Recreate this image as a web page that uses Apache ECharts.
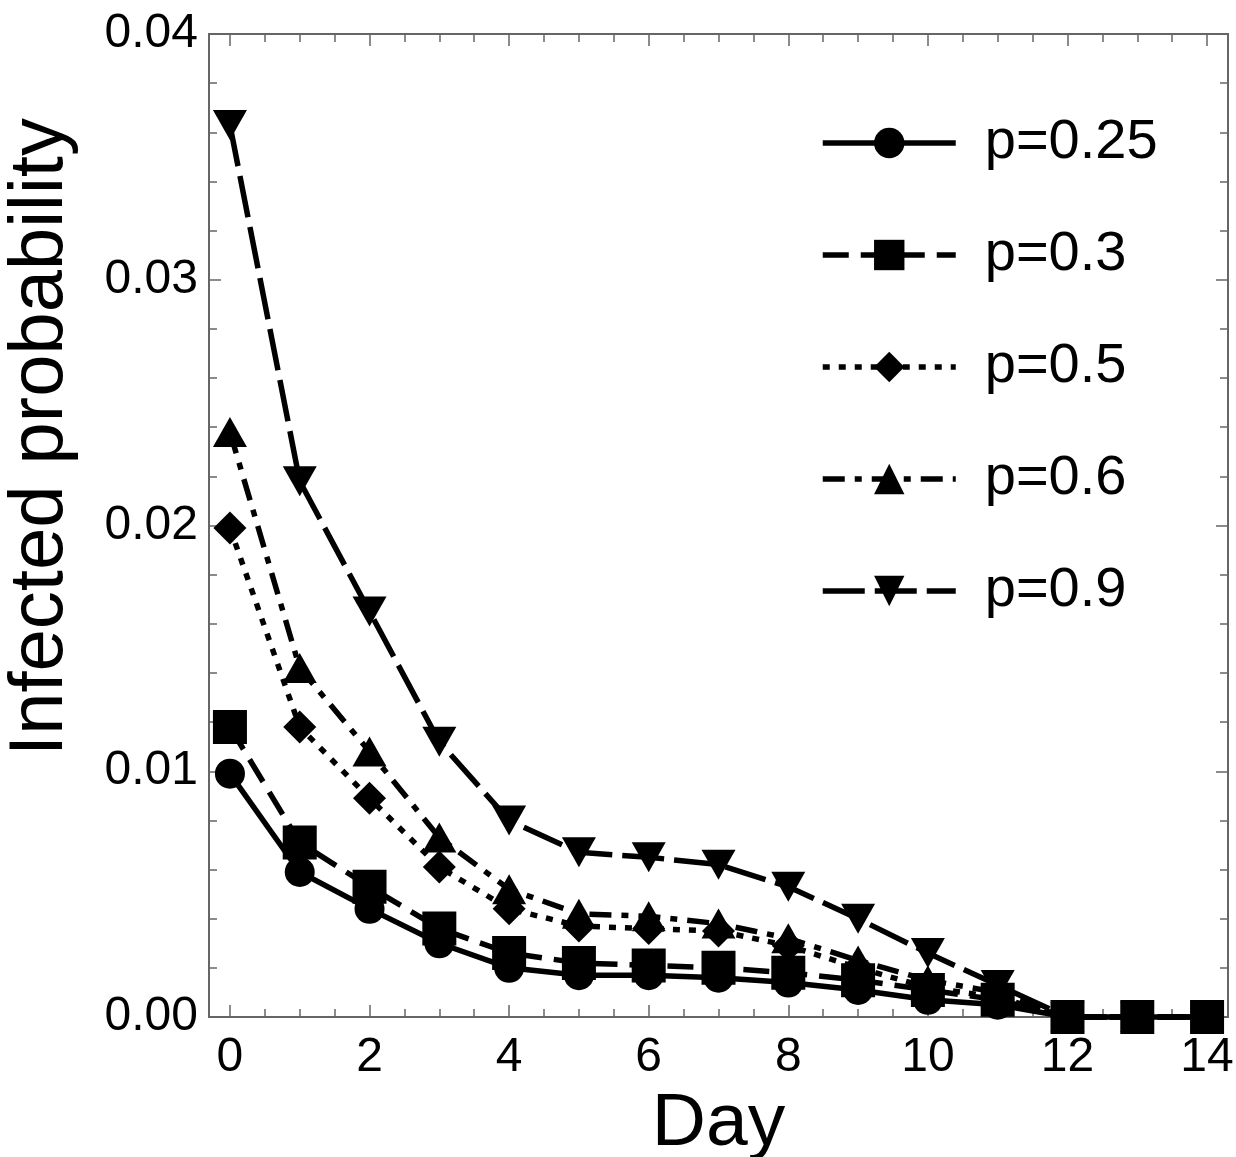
<!DOCTYPE html>
<html>
<head>
<meta charset="utf-8">
<script src="https://cdn.jsdelivr.net/npm/echarts@6/dist/echarts.min.js"></script>
<style>
    html, body { margin: 0; padding: 0; background: #fff; }
    #chart { width: 1236px; height: 1157px; }
</style>
</head>
<body>
<div id="chart"></div>
<script>
const days = [0, 1, 2, 3, 4, 5, 6, 7, 8, 9, 10, 11, 12, 13, 14];
const p025 = [0.0099, 0.0059, 0.0044, 0.0030, 0.0020, 0.0017, 0.0017, 0.0016, 0.0014, 0.0011, 0.0007, 0.0005, 0, 0, 0];
const p03  = [0.0118, 0.0071, 0.0053, 0.0036, 0.0026, 0.0022, 0.0021, 0.0020, 0.0018, 0.0015, 0.0011, 0.0007, 0, 0, 0];
const p05  = [0.0199, 0.0118, 0.0089, 0.0061, 0.0044, 0.0037, 0.0036, 0.0035, 0.0029, 0.0020, 0.0012, 0.0008, 0, 0, 0];
const p06  = [0.0238, 0.0142, 0.0108, 0.0073, 0.0052, 0.0042, 0.0041, 0.0038, 0.0032, 0.0023, 0.0015, 0.0010, 0, 0, 0];
const p09  = [0.0363, 0.0218, 0.0165, 0.0112, 0.0080, 0.0067, 0.0065, 0.0062, 0.0053, 0.0040, 0.0026, 0.0013, 0, 0, 0];

const xMajor = [0, 2, 4, 6, 8, 10, 12, 14];
const xMinor = [0, 0.5, 1, 1.5, 2, 2.5, 3, 3.5, 4, 4.5, 5, 5.5, 6, 6.5, 7, 7.5, 8, 8.5, 9, 9.5, 10, 10.5, 11, 11.5, 12, 12.5, 13, 13.5, 14];

const FONT = 'Liberation Sans, Arial, sans-serif';
const FRAME = '#666';

function pairs(vals) {
    return days.map((d, i) => [d, vals[i]]);
}

function xAxisOf(position, values, len, showLabel) {
    return {
        type: 'value',
        position: position,
        min: -0.3,
        max: 14.3,
        axisLine: { show: true, onZero: false, lineStyle: { color: FRAME, width: 2 } },
        axisTick: { show: true, inside: true, length: len, customValues: values, lineStyle: { color: FRAME, width: 1.5 } },
        axisLabel: showLabel
            ? { show: true, customValues: xMajor, margin: 17, color: '#000', fontSize: 48, fontFamily: FONT }
            : { show: false },
        splitLine: { show: false }
    };
}

function yAxisOf(position, showLabel) {
    return {
        type: 'value',
        position: position,
        min: 0,
        max: 0.04,
        interval: 0.01,
        axisLine: { show: true, onZero: false, lineStyle: { color: FRAME, width: 2 } },
        axisTick: { show: true, inside: true, length: 12, lineStyle: { color: FRAME, width: 1.5 } },
        minorTick: { show: true, splitNumber: 5, length: 8, lineStyle: { color: FRAME, width: 1.5 } },
        axisLabel: showLabel
            ? { show: true, margin: 11, color: '#000', fontSize: 48, fontFamily: FONT, formatter: v => v.toFixed(2) }
            : { show: false },
        splitLine: { show: false },
        minorSplitLine: { show: false }
    };
}

function lineSeries(name, vals, symbol, size, dash) {
    return {
        name: name,
        type: 'line',
        xAxisIndex: 0,
        yAxisIndex: 0,
        data: pairs(vals),
        symbol: symbol,
        symbolSize: size,
        showAllSymbol: true,
        clip: false,
        lineStyle: { color: '#000', width: 5.5, type: dash },
        itemStyle: { color: '#000' }
    };
}

const chart = echarts.init(document.getElementById('chart'));
chart.setOption({
    backgroundColor: '#fff',
    animation: false,
    grid: { left: 209, right: 8, top: 34, bottom: 140, containLabel: false, outerBoundsMode: 'none' },
    xAxis: [
        Object.assign(xAxisOf('bottom', xMajor, 12, true), {
            name: 'Day',
            nameLocation: 'middle',
            nameGap: 61,
            nameTextStyle: { color: '#000', fontSize: 75, fontFamily: FONT }
        }),
        xAxisOf('bottom', xMinor, 8, false),
        xAxisOf('top', xMajor, 12, false),
        xAxisOf('top', xMinor, 8, false)
    ],
    yAxis: [
        yAxisOf('left', true),
        yAxisOf('right', false)
    ],
    legend: {
        orient: 'vertical',
        left: 815,
        top: 110,
        itemWidth: 133,
        itemHeight: 38,
        itemGap: 56,
        lineStyle: { width: 5.5 },
        textStyle: { color: '#000', fontSize: 56, lineHeight: 56, fontFamily: FONT, padding: [0, 0, 0, 24] },
        data: ['p=0.25', 'p=0.3', 'p=0.5', 'p=0.6', 'p=0.9']
    },
    graphic: [{
        type: 'text',
        x: 41,
        y: 437,
        rotation: Math.PI / 2,
        style: {
            text: 'Infected probability',
            fill: '#000',
            font: '76px ' + FONT,
            textAlign: 'center',
            textVerticalAlign: 'middle'
        }
    }],
    series: [
        lineSeries('p=0.25', p025, 'circle', 30, 'solid'),
        lineSeries('p=0.3', p03, 'rect', 34, [26, 12]),
        lineSeries('p=0.5', p05, 'path://M0,-1L1,0L0,1L-1,0Z', 33, [7, 9]),
        lineSeries('p=0.6', p06, 'triangle', [34, 30], [22, 10, 7, 10]),
        lineSeries('p=0.9', p09, 'path://M0,0L34,0L17,30Z', [34, 30], [42, 10])
    ]
});
</script>
</body>
</html>
